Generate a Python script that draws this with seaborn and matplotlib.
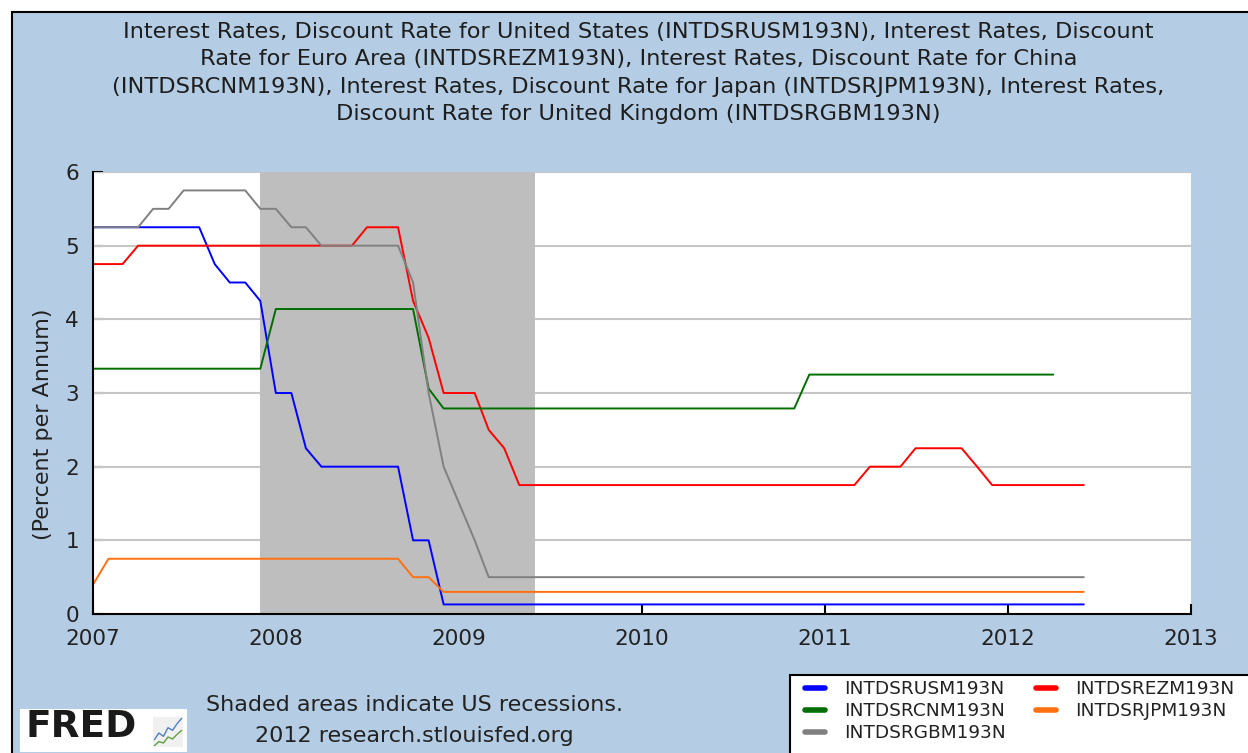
import numpy as np
import pandas as pd
import matplotlib
matplotlib.use("Agg")
import matplotlib.pyplot as plt
import matplotlib.dates as mdates
from matplotlib.patches import Rectangle
from matplotlib.lines import Line2D
import seaborn as sns

sns.set_style("white")
plt.rcParams["font.family"] = ["DejaVu Sans"]

# ---------------- data (monthly, starting Jan 2007) ----------------
start_month = "2007-01-01"
codes = ["INTDSRUSM193N", "INTDSREZM193N", "INTDSRCNM193N", "INTDSRJPM193N", "INTDSRGBM193N"]
colors = ["#0000ff", "#ff0000", "#006e00", "#ff7010", "#808080"]

us = [5.25, 5.25, 5.25, 5.25, 5.25, 5.25, 5.25, 5.25, 4.75, 4.50, 4.50, 4.25,
      3.00, 3.00, 2.25, 2.00, 2.00, 2.00, 2.00, 2.00, 2.00, 1.00, 1.00, 0.13,
      0.13, 0.13, 0.13, 0.13, 0.13, 0.13, 0.13, 0.13, 0.13, 0.13, 0.13, 0.13,
      0.13, 0.13, 0.13, 0.13, 0.13, 0.13, 0.13, 0.13, 0.13, 0.13, 0.13, 0.13,
      0.13, 0.13, 0.13, 0.13, 0.13, 0.13, 0.13, 0.13, 0.13, 0.13, 0.13, 0.13,
      0.13, 0.13, 0.13, 0.13, 0.13, 0.13]
ez = [4.75, 4.75, 4.75, 5.00, 5.00, 5.00, 5.00, 5.00, 5.00, 5.00, 5.00, 5.00,
      5.00, 5.00, 5.00, 5.00, 5.00, 5.00, 5.25, 5.25, 5.25, 4.25, 3.75, 3.00,
      3.00, 3.00, 2.50, 2.25, 1.75, 1.75, 1.75, 1.75, 1.75, 1.75, 1.75, 1.75,
      1.75, 1.75, 1.75, 1.75, 1.75, 1.75, 1.75, 1.75, 1.75, 1.75, 1.75, 1.75,
      1.75, 1.75, 1.75, 2.00, 2.00, 2.00, 2.25, 2.25, 2.25, 2.25, 2.00, 1.75,
      1.75, 1.75, 1.75, 1.75, 1.75, 1.75]
cn = [3.33, 3.33, 3.33, 3.33, 3.33, 3.33, 3.33, 3.33, 3.33, 3.33, 3.33, 3.33,
      4.14, 4.14, 4.14, 4.14, 4.14, 4.14, 4.14, 4.14, 4.14, 4.14, 3.06, 2.79,
      2.79, 2.79, 2.79, 2.79, 2.79, 2.79, 2.79, 2.79, 2.79, 2.79, 2.79, 2.79,
      2.79, 2.79, 2.79, 2.79, 2.79, 2.79, 2.79, 2.79, 2.79, 2.79, 2.79, 3.25,
      3.25, 3.25, 3.25, 3.25, 3.25, 3.25, 3.25, 3.25, 3.25, 3.25, 3.25, 3.25,
      3.25, 3.25, 3.25, 3.25]
jp = [0.40, 0.75, 0.75, 0.75, 0.75, 0.75, 0.75, 0.75, 0.75, 0.75, 0.75, 0.75,
      0.75, 0.75, 0.75, 0.75, 0.75, 0.75, 0.75, 0.75, 0.75, 0.50, 0.50, 0.30,
      0.30, 0.30, 0.30, 0.30, 0.30, 0.30, 0.30, 0.30, 0.30, 0.30, 0.30, 0.30,
      0.30, 0.30, 0.30, 0.30, 0.30, 0.30, 0.30, 0.30, 0.30, 0.30, 0.30, 0.30,
      0.30, 0.30, 0.30, 0.30, 0.30, 0.30, 0.30, 0.30, 0.30, 0.30, 0.30, 0.30,
      0.30, 0.30, 0.30, 0.30, 0.30, 0.30]
gb = [5.25, 5.25, 5.25, 5.25, 5.50, 5.50, 5.75, 5.75, 5.75, 5.75, 5.75, 5.50,
      5.50, 5.25, 5.25, 5.00, 5.00, 5.00, 5.00, 5.00, 5.00, 4.50, 3.00, 2.00,
      1.50, 1.00, 0.50, 0.50, 0.50, 0.50, 0.50, 0.50, 0.50, 0.50, 0.50, 0.50,
      0.50, 0.50, 0.50, 0.50, 0.50, 0.50, 0.50, 0.50, 0.50, 0.50, 0.50, 0.50,
      0.50, 0.50, 0.50, 0.50, 0.50, 0.50, 0.50, 0.50, 0.50, 0.50, 0.50, 0.50,
      0.50, 0.50, 0.50, 0.50, 0.50, 0.50]
series_values = [us, ez, cn, jp, gb]

recession_start = "2007-12-01"
recession_end = "2009-06-01"
x_start, x_end = "2007-01-01", "2013-01-01"
y_ticks = [0, 1, 2, 3, 4, 5, 6]

title = ("Interest Rates, Discount Rate for United States (INTDSRUSM193N), Interest Rates, Discount\n"
         "Rate for Euro Area (INTDSREZM193N), Interest Rates, Discount Rate for China\n"
         "(INTDSRCNM193N), Interest Rates, Discount Rate for Japan (INTDSRJPM193N), Interest Rates,\n"
         "Discount Rate for United Kingdom (INTDSRGBM193N)")
y_label = "(Percent per Annum)"
note1 = "Shaded areas indicate US recessions."
note2 = "2012 research.stlouisfed.org"

logo_x = [0, 1, 2, 3, 4, 5, 6]
logo_blue = [1.2, 2.2, 1.7, 3.0, 2.6, 3.6, 4.4]
logo_green = [0.3, 0.9, 0.7, 1.6, 1.3, 2.0, 2.6]

# ---------------- build long table ----------------
frames = []
for code, vals in zip(codes, series_values):
    dates = pd.date_range(start_month, periods=len(vals), freq="MS")
    frames.append(pd.DataFrame({"date": dates, "value": vals, "series": code}))
df = pd.concat(frames, ignore_index=True)

# ---------------- figure ----------------
W, H = 1248, 753
BG = "#b4cde4"
fig = plt.figure(figsize=(W / 100, H / 100), dpi=100)
fig.patch.set_facecolor("white")
fig.add_artist(Rectangle((12 / W, -0.1), 1.2, 1 - 12 / H + 0.1, transform=fig.transFigure,
                         facecolor=BG, edgecolor="black", linewidth=1.5, zorder=-10))

ax = fig.add_axes([93 / W, 1 - 614 / H, (1191 - 93) / W, (614 - 172) / H])
ax.set_facecolor("white")

ax.axvspan(pd.Timestamp(recession_start), pd.Timestamp(recession_end),
           color="#bebebe", linewidth=0, zorder=1)

sns.lineplot(data=df, x="date", y="value", hue="series", hue_order=codes,
             palette=colors, linewidth=1.4, legend=False, ax=ax,
             estimator=None, errorbar=None, zorder=3)

ax.set_xlim(pd.Timestamp(x_start), pd.Timestamp(x_end))
ax.set_ylim(y_ticks[0], y_ticks[-1])
ax.set_yticks(y_ticks)
ax.hlines(y_ticks[1:], 0, 1, transform=ax.get_yaxis_transform(),
          color="#c6c6c6", linewidth=1.5, zorder=0.8)

ax.xaxis.set_major_locator(mdates.YearLocator())
ax.xaxis.set_major_formatter(mdates.DateFormatter("%Y"))
ax.tick_params(axis="both", direction="in", length=7, width=1.5, color="black",
               labelsize=15.5, labelcolor="#222222",
               top=False, right=False, left=True, bottom=True)
ax.tick_params(axis="x", pad=11)
ax.tick_params(axis="y", pad=10)
ax.set_xlabel("")
ax.set_ylabel("")
for s in ["top", "right"]:
    ax.spines[s].set_visible(False)
for s in ["left", "bottom"]:
    ax.spines[s].set_color("black")
    ax.spines[s].set_linewidth(1.5)
    ax.spines[s].set_zorder(4)

# texts
fig.text(638.5 / W, 1 - 22 / H, title, ha="center", va="top", fontsize=16.2,
         linespacing=1.46, color="#1e1e1e")
fig.text(43 / W, 1 - 424 / H, y_label, rotation=90, ha="center", va="center",
         fontsize=16, color="#222222")
fig.text(414 / W, 1 - 705 / H, note1, ha="center", va="center", fontsize=16, color="#222222")
fig.text(414 / W, 1 - 736 / H, note2, ha="center", va="center", fontsize=16, color="#222222")

# legend box + legend (row-major order as in reference)
fig.add_artist(Rectangle((790 / W, -0.1), 1.0, (753 - 675) / H + 0.1, transform=fig.transFigure,
                         facecolor="white", edgecolor="black", linewidth=1.5, zorder=5))
order = [0, 2, 4, 1, 3]
handles = [Line2D([], [], color=colors[i], linewidth=4) for i in order]
labels = [codes[i] for i in order]
leg = fig.legend(handles, labels, loc="upper left", bbox_to_anchor=(805 / W, 1 - 680 / H),
                 bbox_transform=fig.transFigure, ncol=2, fontsize=13.3, frameon=False,
                 borderaxespad=0, borderpad=0,
                 handlelength=1.08, handletextpad=1.03, columnspacing=1.65,
                 labelspacing=0.22)
leg.set_zorder(6)
for t in leg.get_texts():
    t.set_color("#222222")

# FRED logo
fig.add_artist(Rectangle((20 / W, 1 - 752 / H), 167 / W, 43 / H, transform=fig.transFigure,
                         facecolor="white", edgecolor="none", zorder=5))
fig.text(25 / W, 1 - 727 / H, "FRED", ha="left", va="center", fontsize=27,
         fontweight="bold", color="#1a1a1a", zorder=6)
lax = fig.add_axes([153 / W, 1 - 747 / H, 30 / W, 30 / H], zorder=7)
lax.set_facecolor("#f0f0f0")
lax.plot(logo_x, logo_blue, color="#5080c0", linewidth=1)
lax.plot(logo_x, logo_green, color="#60a040", linewidth=1)
lax.set_xticks([])
lax.set_yticks([])
for s in lax.spines.values():
    s.set_visible(False)

fig.savefig("out.png", dpi=100, facecolor=fig.get_facecolor())
